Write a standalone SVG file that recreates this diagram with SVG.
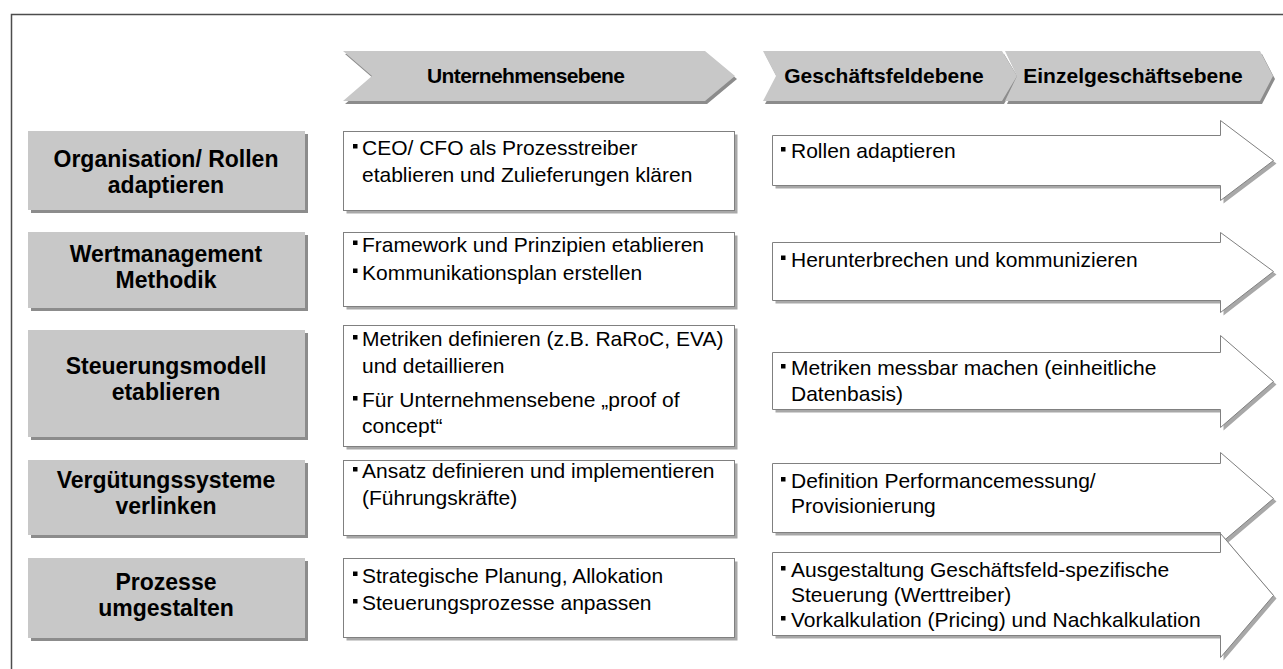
<svg xmlns="http://www.w3.org/2000/svg" width="1283" height="669" viewBox="0 0 1283 669">
  <style>
    text { font-family: "Liberation Sans", Arial, Helvetica, sans-serif; fill: #000; }
    .hd { font-size: 21px; font-weight: bold; text-anchor: middle; }
    .lb { font-size: 23px; font-weight: bold; text-anchor: middle; }
    .tx { font-size: 21px; }
    .grey { fill: #c8c8c8; }
    .gsh { fill: #8c8c8c; }
    .wbox { fill: #fff; stroke: #808080; stroke-width: 1; }
    .wsh { fill: #a8a8a8; }
    .bul { fill: #000; }
  </style>

  <rect width="1283" height="669" fill="#fff"/>
  <!-- outer frame -->
  <rect x="11.5" y="14.5" width="1300" height="700" fill="none" stroke="#4d4d4d" stroke-width="1.5"/>

  <!-- column headers -->
  <g id="hdr-unternehmen">
    <polygon class="gsh" points="345,54 707,54 737,79 707,104 345,104 374,79"/>
    <polygon class="grey" points="343,51 705,51 735,76 705,101 343,101 372,76"/>
    <text class="hd" x="526" y="83" textLength="198">Unternehmensebene</text>
  </g>
  <g id="hdr-geschaeftsfeld">
    <polygon class="gsh" points="765,54 1004,54 1019,79 1004,104 765,104 778,79"/>
    <polygon class="grey" points="763,51 1002,51 1017,76 1002,101 763,101 776,76"/>
    <text class="hd" x="884" y="83">Geschäftsfeldebene</text>
  </g>
  <g id="hdr-einzelgeschaeft">
    <polygon class="gsh" points="1007,54 1262,54 1275,79 1262,104 1007,104 1019,79"/>
    <polygon class="grey" points="1005,51 1260,51 1273,76 1260,101 1005,101 1017,76"/>
    <text class="hd" x="1133" y="83">Einzelgeschäftsebene</text>
  </g>

  <!-- row labels -->
  <g id="row-organisation">
    <rect class="gsh" x="31" y="134" width="277" height="79"/>
    <rect class="grey" x="28" y="131" width="277" height="79"/>
    <text class="lb" x="166" y="167">Organisation/ Rollen</text>
    <text class="lb" x="166" y="193">adaptieren</text>
  </g>
  <g id="row-wertmanagement">
    <rect class="gsh" x="31" y="235" width="277" height="76"/>
    <rect class="grey" x="28" y="232" width="277" height="76"/>
    <text class="lb" x="166" y="262">Wertmanagement</text>
    <text class="lb" x="166" y="288">Methodik</text>
  </g>
  <g id="row-steuerungsmodell">
    <rect class="gsh" x="31" y="333" width="277" height="107"/>
    <rect class="grey" x="28" y="330" width="277" height="107"/>
    <text class="lb" x="166" y="373.5">Steuerungsmodell</text>
    <text class="lb" x="166" y="399.5">etablieren</text>
  </g>
  <g id="row-verguetung">
    <rect class="gsh" x="31" y="463" width="277" height="75"/>
    <rect class="grey" x="28" y="460" width="277" height="75"/>
    <text class="lb" x="166" y="488">Vergütungssysteme</text>
    <text class="lb" x="166" y="514">verlinken</text>
  </g>
  <g id="row-prozesse">
    <rect class="gsh" x="31" y="561" width="277" height="80"/>
    <rect class="grey" x="28" y="558" width="277" height="80"/>
    <text class="lb" x="166" y="590">Prozesse</text>
    <text class="lb" x="166" y="616">umgestalten</text>
  </g>

  <!-- company level boxes -->
  <g id="ue-organisation">
    <rect class="wsh" x="346.5" y="134.5" width="391" height="79"/>
    <rect class="wbox" x="343.5" y="131.5" width="391" height="79"/>
    <rect class="bul" x="353" y="144" width="4.5" height="4.5"/>
    <text class="tx" x="362" y="155">CEO/ CFO als Prozesstreiber</text>
    <text class="tx" x="362" y="181.5">etablieren und Zulieferungen klären</text>
  </g>
  <g id="ue-wertmanagement">
    <rect class="wsh" x="346.5" y="235.5" width="391" height="74"/>
    <rect class="wbox" x="343.5" y="232.5" width="391" height="74"/>
    <rect class="bul" x="353" y="240.5" width="4.5" height="4.5"/>
    <text class="tx" x="362" y="251.5">Framework und Prinzipien etablieren</text>
    <rect class="bul" x="353" y="268.5" width="4.5" height="4.5"/>
    <text class="tx" x="362" y="279.5">Kommunikationsplan erstellen</text>
  </g>
  <g id="ue-steuerungsmodell">
    <rect class="wsh" x="346.5" y="328.5" width="391" height="121"/>
    <rect class="wbox" x="343.5" y="325.5" width="391" height="121"/>
    <rect class="bul" x="353" y="335" width="4.5" height="4.5"/>
    <text class="tx" x="362" y="346">Metriken definieren (z.B. RaRoC, EVA)</text>
    <text class="tx" x="362" y="373">und detaillieren</text>
    <rect class="bul" x="353" y="396" width="4.5" height="4.5"/>
    <text class="tx" x="362" y="407">Für Unternehmensebene „proof of</text>
    <text class="tx" x="362" y="433">concept“</text>
  </g>
  <g id="ue-verguetung">
    <rect class="wsh" x="346.5" y="463.5" width="391" height="75"/>
    <rect class="wbox" x="343.5" y="460.5" width="391" height="75"/>
    <rect class="bul" x="353" y="467" width="4.5" height="4.5"/>
    <text class="tx" x="362" y="478">Ansatz definieren und implementieren</text>
    <text class="tx" x="362" y="505">(Führungskräfte)</text>
  </g>
  <g id="ue-prozesse">
    <rect class="wsh" x="346.5" y="561.5" width="391" height="79"/>
    <rect class="wbox" x="343.5" y="558.5" width="391" height="79"/>
    <rect class="bul" x="353" y="571.5" width="4.5" height="4.5"/>
    <text class="tx" x="362" y="582.5">Strategische Planung, Allokation</text>
    <rect class="bul" x="353" y="599" width="4.5" height="4.5"/>
    <text class="tx" x="362" y="610">Steuerungsprozesse anpassen</text>
  </g>

  <!-- business unit / single deal arrows -->
  <g id="gf-organisation">
    <path class="wsh" d="M775.5,138.5 H1223.5 V123.5 L1276.5,163.5 L1223.5,203.5 V188.5 H775.5 Z"/>
    <path class="wbox" d="M772.5,135.5 H1220.5 V120.5 L1273.5,160.5 L1220.5,200.5 V185.5 H772.5 Z"/>
    <rect class="bul" x="781" y="147" width="4.5" height="4.5"/>
    <text class="tx" x="791" y="158">Rollen adaptieren</text>
  </g>
  <g id="gf-wertmanagement">
    <path class="wsh" d="M775.5,245.5 H1223.5 V235.5 L1276.5,274.5 L1223.5,315.5 V303.5 H775.5 Z"/>
    <path class="wbox" d="M772.5,242.5 H1220.5 V232.5 L1273.5,271.5 L1220.5,312.5 V300.5 H772.5 Z"/>
    <rect class="bul" x="781" y="255.5" width="4.5" height="4.5"/>
    <text class="tx" x="791" y="266.5">Herunterbrechen und kommunizieren</text>
  </g>
  <g id="gf-steuerungsmodell">
    <path class="wsh" d="M775.5,355.5 H1223.5 V338.5 L1276.5,384.5 L1223.5,430.5 V412.5 H775.5 Z"/>
    <path class="wbox" d="M772.5,352.5 H1220.5 V335.5 L1273.5,381.5 L1220.5,427.5 V409.5 H772.5 Z"/>
    <rect class="bul" x="781" y="364" width="4.5" height="4.5"/>
    <text class="tx" x="791" y="375">Metriken messbar machen (einheitliche</text>
    <text class="tx" x="791" y="400.5">Datenbasis)</text>
  </g>
  <g id="gf-verguetung">
    <path class="wsh" d="M775.5,466.5 H1223.5 V455.5 L1276.5,501.5 L1223.5,546.5 V535.5 H775.5 Z"/>
    <path class="wbox" d="M772.5,463.5 H1220.5 V452.5 L1273.5,498.5 L1220.5,543.5 V532.5 H772.5 Z"/>
    <rect class="bul" x="781" y="477" width="4.5" height="4.5"/>
    <text class="tx" x="791" y="488">Definition Performancemessung/</text>
    <text class="tx" x="791" y="513">Provisionierung</text>
  </g>
  <g id="gf-prozesse">
    <path class="wsh" d="M775.5,555.5 H1223.5 V536.5 L1276.5,598.5 L1223.5,660.5 V638.5 H775.5 Z"/>
    <path class="wbox" d="M772.5,552.5 H1220.5 V533.5 L1273.5,595.5 L1220.5,657.5 V635.5 H772.5 Z"/>
    <rect class="bul" x="781" y="566" width="4.5" height="4.5"/>
    <text class="tx" x="791" y="577">Ausgestaltung Geschäftsfeld-spezifische</text>
    <text class="tx" x="791" y="602">Steuerung (Werttreiber)</text>
    <rect class="bul" x="781" y="616" width="4.5" height="4.5"/>
    <text class="tx" x="791" y="627">Vorkalkulation (Pricing) und Nachkalkulation</text>
  </g>
</svg>
